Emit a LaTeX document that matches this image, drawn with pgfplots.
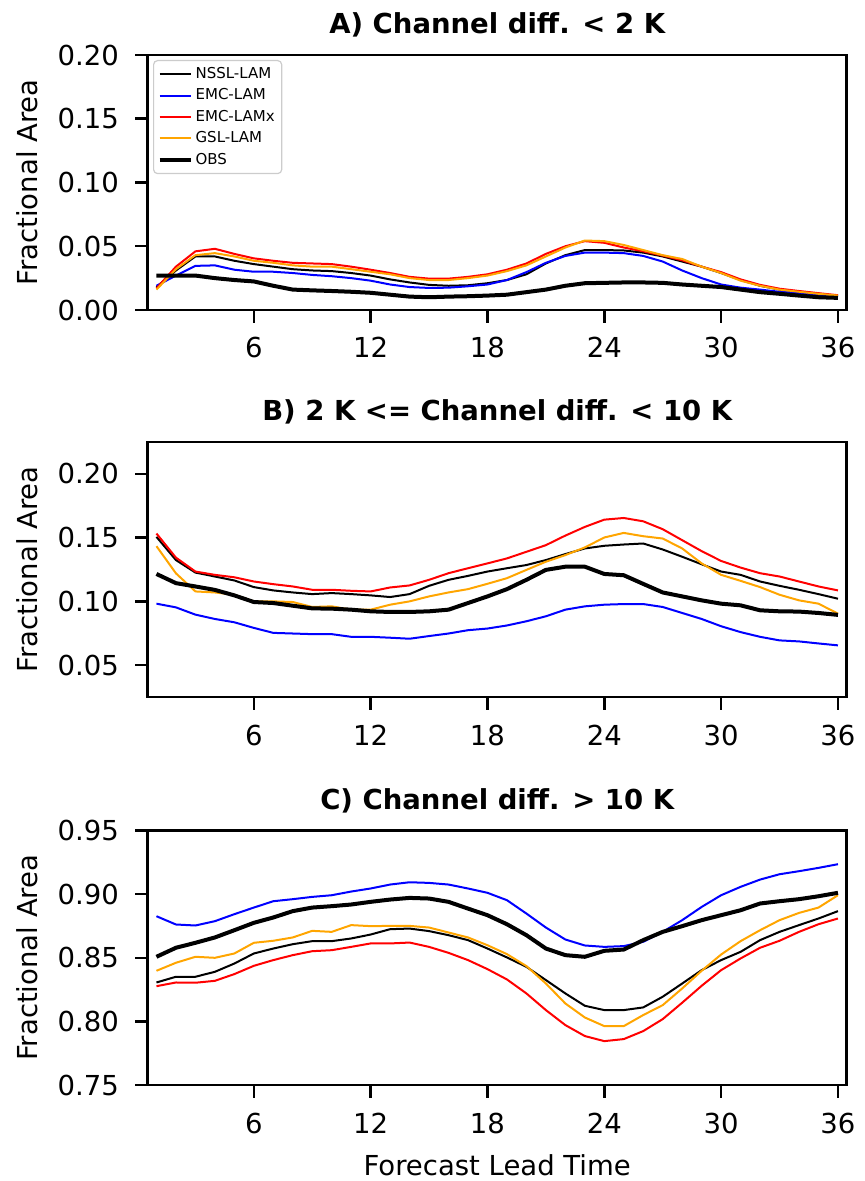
\documentclass[border=0pt]{standalone}
\usepackage{pgfplots}
\usepackage{pgfplotstable}
\pgfplotsset{compat=1.18}
\usepackage{fontspec}
\setmainfont{DejaVu Sans}
\newcommand{\fs}{\fontsize{13.75}{16}\selectfont}
\newcommand{\lfs}{\fontsize{7.5}{9}\selectfont}
\definecolor{mplblue}{RGB}{0,0,255}
\definecolor{mplred}{RGB}{255,0,0}
\definecolor{mplorange}{RGB}{255,165,0}

\pgfplotstableread{
t NSSL EMC EMCx GSL OBS
1 0.018 0.019 0.017 0.016 0.027
2 0.031 0.027 0.034 0.032 0.027
3 0.042 0.0346 0.046 0.043 0.027
4 0.042 0.035 0.048 0.0446 0.025
5 0.0386 0.0316 0.044 0.042 0.0235
6 0.036 0.030 0.0405 0.0386 0.0224
7 0.034 0.030 0.0386 0.037 0.019
8 0.032 0.029 0.037 0.035 0.016
9 0.031 0.0275 0.0365 0.034 0.0154
10 0.0305 0.0265 0.036 0.034 0.0149
11 0.029 0.025 0.034 0.032 0.0143
12 0.027 0.023 0.0316 0.030 0.0135
13 0.024 0.020 0.029 0.028 0.012
14 0.0216 0.018 0.026 0.025 0.0105
15 0.0197 0.0173 0.0246 0.0235 0.010
16 0.019 0.0175 0.0246 0.0235 0.0105
17 0.0194 0.0186 0.026 0.025 0.0108
18 0.021 0.020 0.028 0.027 0.0113
19 0.0235 0.0235 0.0316 0.0305 0.012
20 0.028 0.0297 0.0365 0.035 0.014
21 0.0365 0.037 0.044 0.042 0.016
22 0.043 0.0424 0.050 0.049 0.019
23 0.047 0.045 0.054 0.0545 0.021
24 0.047 0.045 0.0527 0.054 0.0213
25 0.0467 0.0446 0.049 0.051 0.0216
26 0.045 0.0424 0.046 0.047 0.0216
27 0.042 0.038 0.0427 0.043 0.0213
28 0.038 0.031 0.039 0.040 0.020
29 0.034 0.025 0.034 0.034 0.019
30 0.029 0.020 0.0297 0.029 0.018
31 0.0235 0.0175 0.024 0.023 0.016
32 0.019 0.016 0.0197 0.019 0.014
33 0.016 0.0143 0.0167 0.016 0.0127
34 0.0143 0.0132 0.0149 0.0143 0.0113
35 0.0127 0.012 0.0132 0.0127 0.010
36 0.011 0.0108 0.0116 0.0113 0.0095
}\tabA

\pgfplotstableread{
t NSSL EMC EMCx GSL OBS
1 0.1506 0.0982 0.1532 0.1433 0.1215
2 0.1324 0.0953 0.1343 0.1220 0.1143
3 0.1226 0.0896 0.1234 0.1078 0.1117
4 0.1195 0.0862 0.1208 0.1070 0.1090
5 0.1164 0.0836 0.1189 0.1052 0.1047
6 0.1112 0.0792 0.1156 0.1000 0.0995
7 0.1086 0.0753 0.1135 0.1000 0.0987
8 0.1070 0.0748 0.1117 0.0995 0.0966
9 0.1057 0.0743 0.1091 0.0956 0.0945
10 0.1065 0.0743 0.1091 0.0961 0.0943
11 0.1057 0.0722 0.1083 0.0935 0.0935
12 0.1047 0.0722 0.1078 0.0935 0.0922
13 0.1034 0.0715 0.1109 0.0974 0.0917
14 0.1057 0.0707 0.1125 0.1000 0.0917
15 0.1122 0.0728 0.1169 0.1039 0.0922
16 0.1169 0.0748 0.1221 0.1070 0.0935
17 0.1200 0.0774 0.1260 0.1096 0.0987
18 0.1234 0.0787 0.1298 0.1138 0.1039
19 0.1260 0.0811 0.1337 0.1182 0.1096
20 0.1285 0.0844 0.1389 0.1247 0.1169
21 0.1324 0.0883 0.1441 0.1311 0.1247
22 0.1371 0.0935 0.1516 0.1363 0.1272
23 0.1415 0.0961 0.1584 0.1423 0.1272
24 0.1436 0.0974 0.1641 0.1501 0.1215
25 0.1446 0.0979 0.1654 0.1537 0.1205
26 0.1454 0.0979 0.1628 0.1511 0.1137
27 0.1407 0.0956 0.1566 0.1493 0.1070
28 0.1350 0.0909 0.1480 0.1415 0.1039
29 0.1291 0.0862 0.1394 0.1298 0.1008
30 0.1234 0.0805 0.1317 0.1208 0.0982
31 0.1208 0.0759 0.1265 0.1161 0.0969
32 0.1156 0.0722 0.1221 0.1112 0.0930
33 0.1122 0.0694 0.1195 0.1052 0.0922
34 0.1091 0.0686 0.1156 0.1008 0.0920
35 0.1057 0.0670 0.1117 0.0982 0.0909
36 0.1021 0.0655 0.1086 0.0904 0.0894
}\tabB

\pgfplotstableread{
t NSSL EMC EMCx GSL OBS
1 0.8306 0.8827 0.8277 0.8398 0.8508
2 0.8351 0.8762 0.8306 0.8461 0.8579
3 0.8351 0.8754 0.8304 0.8508 0.8618
4 0.8390 0.8788 0.8319 0.8500 0.8660
5 0.8455 0.8843 0.8372 0.8534 0.8717
6 0.8534 0.8895 0.8437 0.8618 0.8775
7 0.8573 0.8945 0.8482 0.8634 0.8817
8 0.8607 0.8961 0.8521 0.8660 0.8867
9 0.8631 0.8979 0.8552 0.8712 0.8895
10 0.8631 0.8992 0.8560 0.8704 0.8906
11 0.8652 0.9021 0.8586 0.8757 0.8919
12 0.8683 0.9045 0.8613 0.8749 0.8940
13 0.8725 0.9076 0.8613 0.8751 0.8958
14 0.8730 0.9094 0.8620 0.8751 0.8971
15 0.8710 0.9089 0.8586 0.8738 0.8966
16 0.8678 0.9076 0.8539 0.8699 0.8940
17 0.8639 0.9045 0.8482 0.8660 0.8887
18 0.8573 0.9011 0.8411 0.8599 0.8835
19 0.8503 0.8953 0.8330 0.8529 0.8764
20 0.8429 0.8848 0.8220 0.8435 0.8678
21 0.8325 0.8738 0.8089 0.8298 0.8573
22 0.8220 0.8644 0.7971 0.8141 0.8521
23 0.8123 0.8597 0.7885 0.8031 0.8508
24 0.8089 0.8586 0.7845 0.7963 0.8555
25 0.8089 0.8592 0.7861 0.7963 0.8565
26 0.8110 0.8626 0.7924 0.8050 0.8639
27 0.8194 0.8704 0.8018 0.8128 0.8704
28 0.8298 0.8796 0.8147 0.8259 0.8749
29 0.8403 0.8900 0.8280 0.8398 0.8796
30 0.8482 0.8992 0.8403 0.8526 0.8835
31 0.8547 0.9058 0.8495 0.8631 0.8874
32 0.8639 0.9115 0.8579 0.8717 0.8927
33 0.8704 0.9157 0.8634 0.8796 0.8945
34 0.8757 0.9181 0.8704 0.8853 0.8961
35 0.8809 0.9207 0.8764 0.8895 0.8984
36 0.8867 0.9236 0.8809 0.8992 0.9011
}\tabC

\pgfplotsset{
  panel/.style={
    scale only axis, width=349.5pt, height=127.5pt,
    xmin=0.55, xmax=36.45, xtick={6,12,18,24,30,36},
    tick pos=left, tick align=outside, major tick length=6.3pt,
    every tick/.style={black, line width=1.25pt},
    axis line style={line width=1.25pt},
    /pgf/number format/assume math mode=true,
    ticklabel style={font=\fs},
    yticklabel style={anchor=east, inner sep=0pt, xshift=-7.9pt,
      /pgf/number format/.cd, fixed, fixed zerofill, precision=2},
    xticklabel style={anchor=base, inner sep=0pt, yshift=-17.7pt},
    ylabel={Fractional Area},
    label style={font=\fs},
    ylabel style={at={([xshift=-55.2pt]axis description cs:0,0.5)}, anchor=base},
    every axis title/.style={at={([yshift=10.8pt]axis description cs:0.5,1)}, anchor=base, font=\fs\bfseries},
    every axis plot/.append style={line join=round},
    legend image code/.code={\draw[##1, line cap=butt] (0pt,0pt) -- (15.5pt,0pt);},
  },
  thin/.style={line width=1pt},
  thick/.style={line width=2pt},
}

\begin{document}
\begin{tikzpicture}
\path[use as bounding box] (0,0) rectangle (432pt,-590.5pt);

\begin{axis}[panel, at={(73.85pt,-155pt)}, anchor=south west,
  ymin=0, ymax=0.2, ytick={0,0.05,0.1,0.15,0.2},
  title={A) Channel diff. < 2 K},
  legend cell align=left,
  legend style={at={(0,1)}, anchor=north west, xshift=2.65pt, yshift=-2.5pt,
    font=\lfs, draw=black!20, line width=0.6pt, rounded corners=2pt,
    fill=white, fill opacity=0.8, text opacity=1,
    inner xsep=2pt, inner ysep=1.5pt, row sep=0pt, column sep=0pt,
    nodes={inner sep=1.5pt, text height=6pt, text depth=1.7pt}},
]
\addplot[thin, black] table[x=t, y=NSSL] {\tabA};
\addlegendentry{NSSL-LAM}
\addplot[thin, mplblue] table[x=t, y=EMC] {\tabA};
\addlegendentry{EMC-LAM}
\addplot[thin, mplred] table[x=t, y=EMCx] {\tabA};
\addlegendentry{EMC-LAMx}
\addplot[thin, mplorange] table[x=t, y=GSL] {\tabA};
\addlegendentry{GSL-LAM}
\addplot[thick, black] table[x=t, y=OBS] {\tabA};
\addlegendentry{OBS}
\end{axis}

\begin{axis}[panel, at={(73.85pt,-348.5pt)}, anchor=south west,
  ymin=0.025, ymax=0.225, ytick={0.05,0.1,0.15,0.2},
  title={B) 2 K <= Channel diff. < 10 K},
]
\addplot[thin, black] table[x=t, y=NSSL] {\tabB};
\addplot[thin, mplblue] table[x=t, y=EMC] {\tabB};
\addplot[thin, mplred] table[x=t, y=EMCx] {\tabB};
\addplot[thin, mplorange] table[x=t, y=GSL] {\tabB};
\addplot[thick, black] table[x=t, y=OBS] {\tabB};
\end{axis}

\begin{axis}[panel, at={(73.85pt,-542.5pt)}, anchor=south west, height=127.2pt,
  ymin=0.75, ymax=0.95, ytick={0.75,0.8,0.85,0.9,0.95},
  title={C) Channel diff. > 10 K},
  xlabel={Forecast Lead Time},
  xlabel style={at={([yshift=-45pt]axis description cs:0.5,0)}, anchor=base},
]
\addplot[thin, black] table[x=t, y=NSSL] {\tabC};
\addplot[thin, mplblue] table[x=t, y=EMC] {\tabC};
\addplot[thin, mplred] table[x=t, y=EMCx] {\tabC};
\addplot[thin, mplorange] table[x=t, y=GSL] {\tabC};
\addplot[thick, black] table[x=t, y=OBS] {\tabC};
\end{axis}
\end{tikzpicture}
\end{document}
